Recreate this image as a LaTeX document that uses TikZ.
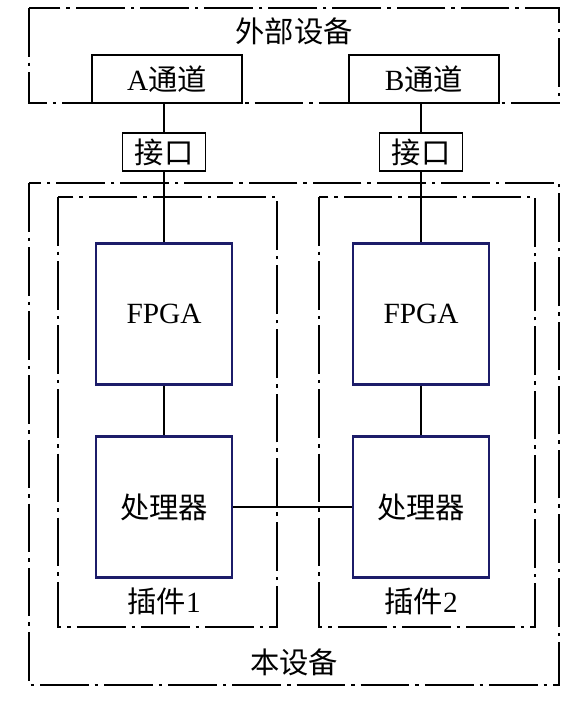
\documentclass[tikz,border=0pt]{standalone}
\usepackage{fontspec}
\setmainfont{Liberation Serif}
\newfontfamily\cjk{Noto Sans CJK SC}
\definecolor{boxblue}{RGB}{28,28,105}

\begin{document}
\begin{tikzpicture}[x=0.75pt,y=-0.75pt,
	every node/.style={font=\fontsize{22pt}{26pt}\selectfont},
	frame/.style={draw,line width=1.4pt,dash pattern=on 36.5pt off 4.5pt on 2.6pt off 4.5pt},
	chan/.style={draw,line width=1pt,inner sep=0,minimum width=112.5pt,minimum height=36pt},
	port/.style={draw,line width=1pt,inner sep=0,minimum width=62pt,minimum height=28.5pt},
	unit/.style={draw=boxblue,line width=1.9pt,inner sep=0,minimum width=102pt,minimum height=106pt},
	link/.style={draw,line width=1pt}]
	\useasboundingbox (0,0) rectangle (577,701);
	% dash-dot frames
	\draw[frame] (29,8) rectangle (559,103);
	\draw[frame] (29,183) rectangle (559,685);
	\draw[frame] (58,197) rectangle (277,627);
	\draw[frame] (319,197) rectangle (535,627);
	\node (ext) at (294,31) {\cjk 外部设备};
	\node (dev) at (294,662) {\cjk 本设备};
	\node (plug1) at (164,601) {{\cjk 插件}1};
	\node (plug2) at (421,601) {{\cjk 插件}2};
	% channel A
	\node[chan] (chA) at (167,79) {A{\cjk 通道}};
	\node[port] (ifA) at (164,152) {\cjk 接口};
	\node[unit] (fpgaA) at (164,314) {FPGA};
	\node[unit] (cpuA) at (164,507) {\cjk 处理器};
	% channel B
	\node[chan] (chB) at (424,79) {B{\cjk 通道}};
	\node[port] (ifB) at (421,152) {\cjk 接口};
	\node[unit] (fpgaB) at (421,314) {FPGA};
	\node[unit] (cpuB) at (421,507) {\cjk 处理器};
	\draw[link] (chA.south -| ifA) -- (ifA) -- (fpgaA) -- (cpuA) -- (cpuB);
	\draw[link] (chB.south -| ifB) -- (ifB) -- (fpgaB) -- (cpuB);
\end{tikzpicture}
\end{document}
